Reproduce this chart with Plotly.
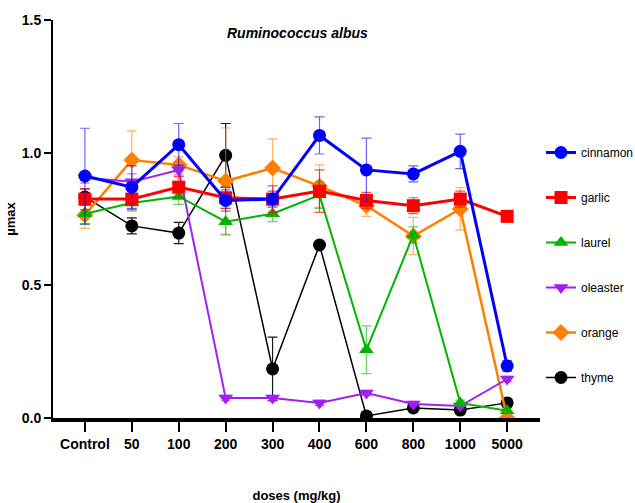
import plotly.graph_objects as go

doses = ["Control", "50", "100", "200", "300", "400", "600", "800", "1000", "5000"]

cinnamon = [0.912, 0.87, 1.03, 0.82, 0.825, 1.065, 0.935, 0.92, 1.005, 0.196]
cinnamon_err = [0.18, 0.08, 0.08, 0.04, 0.03, 0.07, 0.12, 0.03, 0.065, 0.02]
garlic = [0.825, 0.825, 0.87, 0.83, 0.825, 0.855, 0.82, 0.80, 0.825, 0.76]
garlic_err = [0.04, 0.04, 0.04, 0.04, 0.05, 0.08, 0.03, 0.03, 0.03, 0.02]
laurel = [0.77, 0.81, 0.835, 0.74, 0.77, 0.84, 0.257, 0.69, 0.057, 0.027]
laurel_err = [0.04, 0.03, 0.03, 0.05, 0.03, 0.05, 0.09, 0.03, 0.01, 0.01]
oleaster = [0.905, 0.89, 0.935, 0.075, 0.075, 0.057, 0.094, 0.053, 0.045, 0.147]
oleaster_err = [0.02, 0.03, 0.02, 0.01, 0.01, 0.01, 0.01, 0.01, 0.01, 0.01]
orange = [0.765, 0.972, 0.954, 0.893, 0.942, 0.874, 0.80, 0.686, 0.788, 0.0]
orange_err = [0.05, 0.11, 0.03, 0.2, 0.11, 0.08, 0.04, 0.07, 0.08, 0.0]
thyme = [0.833, 0.724, 0.697, 0.99, 0.185, 0.652, 0.008, 0.038, 0.03, 0.057]
thyme_err = [0.03, 0.03, 0.04, 0.12, 0.12, 0.01, 0.005, 0.005, 0.005, 0.01]

# drawn bottom-to-top; legendrank gives legend order
series = [
    ("thyme", thyme, thyme_err, "#000000", "circle", 1.5, "rgba(0,0,0,0.9)", 6),
    ("orange", orange, orange_err, "#FF8000", "diamond", 2.5, "rgba(255,128,0,0.6)", 5),
    ("oleaster", oleaster, oleaster_err, "#A020F0", "triangle-down", 2, "rgba(160,32,240,0.6)", 4),
    ("laurel", laurel, laurel_err, "#00B400", "triangle-up", 2, "rgba(0,180,0,0.6)", 3),
    ("garlic", garlic, garlic_err, "#FF0000", "square", 3, "rgba(255,0,0,0.7)", 2),
    ("cinnamon", cinnamon, cinnamon_err, "#0000FF", "circle", 3, "rgba(0,0,255,0.6)", 1),
]

FONT = "Liberation Sans Narrow, Arial Narrow, Liberation Sans, Arial"

fig = go.Figure()
for name, vals, errs, col, sym, lw, ecol, rank in series:
    fig.add_trace(go.Scatter(
        x=doses, y=vals, name=name, mode="lines+markers",
        line=dict(color=col, width=lw),
        marker=dict(symbol=sym, size=13, color=col),
        error_y=dict(type="data", array=errs, visible=True, color=ecol, thickness=1.2, width=5),
        legendgroup=name, legendrank=rank,
    ))

fig.add_annotation(text="<b><i>Ruminococcus albus</i></b>", xref="paper", yref="paper",
                   x=(297 - 53) / 487.0, y=(418 - 33) / 398.0, xanchor="center", yanchor="middle",
                   showarrow=False, font=dict(size=14, color="black", family=FONT))

fig.update_layout(
    width=635, height=503,
    margin=dict(l=53, r=95, t=20, b=85, autoexpand=False),
    plot_bgcolor="white", paper_bgcolor="white",
    font=dict(family=FONT, color="black"),
    showlegend=True,
    legend=dict(xref="container", yref="container", x=541 / 635.0, xanchor="left",
                y=1 - 138 / 503.0, yanchor="top",
                traceorder="grouped", tracegroupgap=26, itemwidth=30,
                font=dict(size=12), bgcolor="rgba(0,0,0,0)"),
    xaxis=dict(range=[-0.68, 9.7], showline=True, linecolor="black", linewidth=4,
               ticks="outside", ticklen=10, tickwidth=2, tickcolor="black",
               showgrid=False, zeroline=False, automargin=False,
               tickfont=dict(size=14),
               tickprefix="<b>", ticksuffix="</b>",
               title=dict(text="<b>doses (mg/kg)</b>", font=dict(size=13), standoff=42)),
    yaxis=dict(range=[0, 1.5], tickvals=[0, 0.5, 1.0, 1.5], ticktext=["<b>0.0</b>", "<b>0.5</b>", "<b>1.0</b>", "<b>1.5</b>"],
               showline=True, linecolor="black", linewidth=2,
               ticks="outside", ticklen=7, tickwidth=2, tickcolor="black",
               showgrid=False, zeroline=False, automargin=False, tickfont=dict(size=14),
               title=dict(text="<b>µmax</b>", font=dict(size=13), standoff=3)),
)

fig.write_html("out.html")
